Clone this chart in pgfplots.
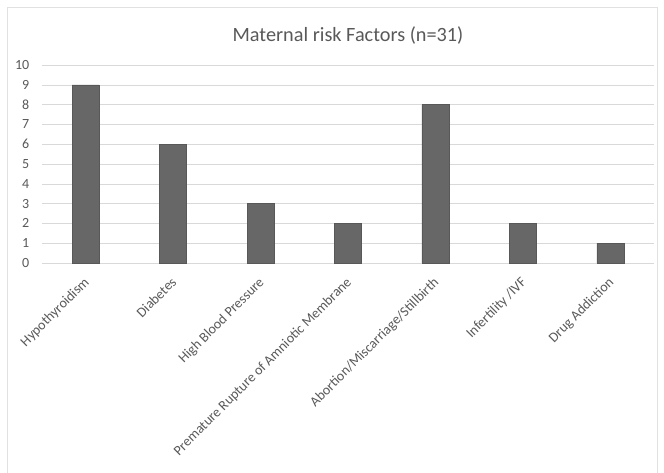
\documentclass[border=0pt]{standalone}
\usepackage{pgfplots}
\pgfplotsset{compat=1.18}
\usepackage{fontspec}
\setmainfont{Carlito}
\definecolor{bargray}{HTML}{676767}
\definecolor{txtgray}{HTML}{595959}
\definecolor{gridgray}{HTML}{D9D9D9}
\begin{document}
\begin{tikzpicture}[x=0.75pt,y=0.75pt]
\useasboundingbox (0,0) rectangle (664,472);
\draw[gridgray!80] (7.5,-20) -- (7.5,465) -- (657,465) -- (657,-20);
\begin{axis}[
  at={(42*0.75pt,209*0.75pt)}, anchor=south west,
  scale only axis, width=459pt, height=148.5pt,
  xmin=-0.5, xmax=6.5, ymin=0, ymax=10,
  ytick={0,1,...,10},
  xtick={0,...,6},
  xticklabels={Hypothyroidism,Diabetes,High Blood Pressure,Premature Rupture of Amniotic Membrane,Abortion/Miscarriage/Stillbirth,Infertility /IVF,Drug Addiction},
  axis x line*=bottom,
  axis y line*=left,
  x axis line style={gridgray, -},
  y axis line style={draw=none},
  ymajorgrids, grid style={gridgray},
  major tick length=0pt,
  tick label style={font=\fontsize{10.5}{12}\selectfont, text=txtgray},
  /pgf/number format/assume math mode=true,
  yticklabel style={xshift=-6pt},
  xticklabel style={rotate=45, anchor=north east, xshift=-5pt, yshift=-2pt},
  title={Maternal risk Factors (n=31)},
  title style={font=\fontsize{15.2}{18}\selectfont, text=txtgray, yshift=6pt},
]
\addplot[ybar, bar width=20.25pt, fill=bargray, draw=bargray!85!black] coordinates {
  (0,9) (1,6) (2,3) (3,2) (4,8) (5,2) (6,1)
};
\end{axis}
\end{tikzpicture}
\end{document}
